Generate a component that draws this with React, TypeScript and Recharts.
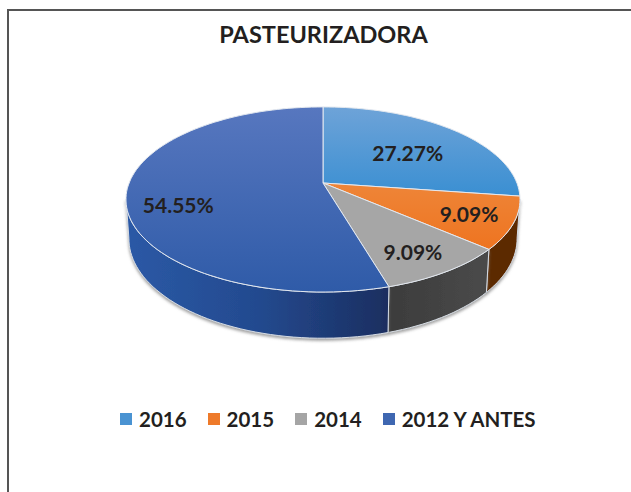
/**
 * Pastel 3D "PASTEURIZADORA"
 */
import { PieChart, Pie, Legend } from 'recharts';

const categories = ['2016', '2015', '2014', '2012 Y ANTES'];
const shares = [27.27, 9.09, 9.09, 54.55];
const legendColors = ['#4a93d2', '#ee7a2a', '#a5a5a5', '#3f67b1'];
const topFills = ['url(#top2016)', 'url(#top2015)', '#a6a6a6', 'url(#top2012)'];
const wallFills = ['#2a6aa0', '#5c2a06', 'url(#wall2014)', 'url(#wall2012)'];

const rows = categories.map((name, i) => ({
  name,
  value: shares[i],
  fill: legendColors[i],
  topFill: topFills[i],
  wallFill: wallFills[i],
}));

const FONT = 'Lato, "Open Sans", sans-serif';
const TEXT = '#231f20';

// la perspective du pastel : le centre n'est pas au centre de l'ellipse
const SCALE_X = 193.9;
const SCALE_Y = 89.6;
const TILT = 0.178;
const DEPTH = 38;
const WALL_SHRINK = 0.985;

// position des etiquettes, en fraction du rayon et decalage vertical
const labelRadius = [0.62, 0.78, 0.76, 0.74];
const labelShiftY = [3, 0, 4, 12];

const project = (cx: number, cy: number, deg: number, f = 1) => {
  const t = (deg * Math.PI) / 180;
  const u = Math.sin(t) * f;
  const v = -Math.cos(t) * f;
  const w = 1 - TILT * v;
  return { x: cx + (SCALE_X * u) / w, y: cy + (SCALE_Y * v) / w, w };
};

const arcPoints = (from: number, to: number) => {
  const steps = Math.max(2, Math.ceil(Math.abs(to - from) / 2));
  return Array.from({ length: steps + 1 }, (_, i) => from + ((to - from) * i) / steps);
};

const toPath = (pts: { x: number; y: number }[]) =>
  pts.map((p, i) => `${i ? 'L' : 'M'}${p.x.toFixed(1)},${p.y.toFixed(1)}`).join(' ');

const Slice3D = (props: any) => {
  const { cx, cy, startAngle, endAngle, payload } = props;
  const from = 90 - startAngle;
  const to = 90 - endAngle;
  const rim = arcPoints(from, to).map((d) => project(cx, cy, d));
  const top = `M${cx},${cy} ${toPath(rim).replace('M', 'L')} Z`;

  // seule la partie avant a un flanc visible
  const wallFrom = Math.max(from, 100);
  const wallTo = Math.min(to, 260);
  let wall = null;
  if (wallTo > wallFrom) {
    const upper = arcPoints(wallFrom, wallTo).map((d) => project(cx, cy, d));
    const lower = [...upper].reverse().map((p) => ({
      x: cx + (p.x - cx) * WALL_SHRINK,
      y: p.y + DEPTH / p.w,
    }));
    wall = (
      <path
        d={`${toPath(upper)} ${toPath(lower).replace('M', 'L')} Z`}
        fill={payload.wallFill}
        stroke="#d5dbe3"
        strokeWidth={1}
        filter="url(#wallShadow)"
      />
    );
  }

  return (
    <g>
      {wall}
      <path d={top} fill={payload.topFill} stroke="#e3e8ef" strokeWidth={1} />
    </g>
  );
};

const renderLabel = (props: any) => {
  const { cx, cy, midAngle, value, index } = props;
  const p = project(cx, cy, 90 - midAngle, labelRadius[index]);
  return (
    <text
      x={p.x}
      y={p.y + labelShiftY[index]}
      fill={TEXT}
      fontFamily={FONT}
      fontWeight={700}
      fontSize={21}
      textAnchor="middle"
      dominantBaseline="central"
    >
      {value.toFixed(2)}%
    </text>
  );
};

const renderLegend = ({ payload }: any) => (
  <div style={{ display: 'flex', gap: 21, paddingLeft: 120, alignItems: 'center' }}>
    {(payload || []).map((item: any) => (
      <div key={item.value} style={{ display: 'flex', alignItems: 'center' }}>
        <span style={{ width: 12, height: 12, background: item.color, marginRight: 7 }} />
        <span style={{ fontFamily: FONT, fontWeight: 700, fontSize: 20.5, color: TEXT }}>
          {item.value}
        </span>
      </div>
    ))}
  </div>
);

export default function App() {
  return (
    <div style={{ position: 'absolute', left: 0, top: 0, width: 631, height: 492, background: '#fff', overflow: 'hidden' }}>
      <div style={{ position: 'absolute', left: 7, top: 9, width: 624, height: 483, borderTop: '2px solid #555', borderLeft: '2px solid #555', boxSizing: 'border-box' }} />
      <div style={{ position: 'absolute', left: 0, top: 20, width: 647, textAlign: 'center', fontFamily: FONT, fontWeight: 700, fontSize: 23.5, color: TEXT }}>
        PASTEURIZADORA
      </div>
      <PieChart width={631} height={492} margin={{ top: 0, right: 0, bottom: 0, left: 0 }}>
        <defs>
          <linearGradient id="top2016" x1="0" y1="0" x2="0" y2="1">
            <stop offset="0%" stopColor="#6ea3d8" />
            <stop offset="100%" stopColor="#3a8fd2" />
          </linearGradient>
          <linearGradient id="top2015" x1="0" y1="0" x2="0" y2="1">
            <stop offset="0%" stopColor="#ee8538" />
            <stop offset="100%" stopColor="#ee7420" />
          </linearGradient>
          <linearGradient id="top2012" x1="0" y1="0" x2="0" y2="1">
            <stop offset="0%" stopColor="#5777bf" />
            <stop offset="100%" stopColor="#2f5ba8" />
          </linearGradient>
          <linearGradient id="wall2012" x1="0" y1="0" x2="1" y2="0">
            <stop offset="0%" stopColor="#2b59a6" />
            <stop offset="50%" stopColor="#234a8f" />
            <stop offset="100%" stopColor="#1b2e60" />
          </linearGradient>
          <linearGradient id="wall2014" x1="0" y1="0" x2="1" y2="0">
            <stop offset="0%" stopColor="#3c3c3c" />
            <stop offset="100%" stopColor="#4a4a4a" />
          </linearGradient>
          <filter id="wallShadow" x="-10%" y="-20%" width="120%" height="150%">
            <feDropShadow dx="0" dy="2" stdDeviation="1.5" floodColor="#777" floodOpacity="0.7" />
          </filter>
        </defs>
        <Pie
          data={rows}
          dataKey="value"
          nameKey="name"
          cx={323}
          cy={183}
          outerRadius={100}
          startAngle={90}
          endAngle={-270}
          stroke="none"
          shape={Slice3D}
          label={renderLabel}
          labelLine={false}
          isAnimationActive={false}
        />
        <Legend content={renderLegend} itemSorter={null} wrapperStyle={{ left: 0, top: 407, width: 631 }} />
      </PieChart>
    </div>
  );
}
